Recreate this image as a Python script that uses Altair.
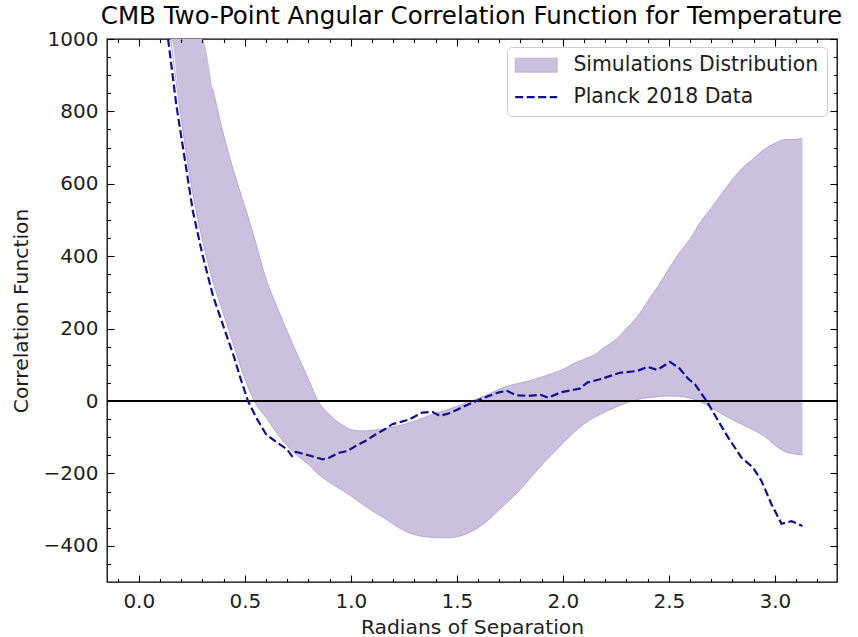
import altair as alt
import pandas as pd

# ---------------- data ----------------
band_x = [0.00, 0.05, 0.10, 0.15, 0.20, 0.25, 0.30, 0.35, 0.40, 0.45,
          0.50, 0.55, 0.60, 0.65, 0.70, 0.75, 0.80, 0.85, 0.90, 0.95,
          1.00, 1.05, 1.10, 1.15, 1.20, 1.25, 1.30, 1.35, 1.40, 1.45,
          1.50, 1.55, 1.60, 1.65, 1.70, 1.75, 1.80, 1.85, 1.90, 1.95,
          2.00, 2.05, 2.10, 2.15, 2.20, 2.25, 2.30, 2.35, 2.40, 2.45,
          2.50, 2.55, 2.60, 2.65, 2.70, 2.75, 2.80, 2.85, 2.90, 2.95,
          3.00, 3.05, 3.10, 3.13]
band_hi = [2600, 2300, 2000, 1700, 1450, 1210, 1010, 860, 735, 630,
           537, 440, 337, 262, 192, 125, 60, -5, -38, -63,
           -79, -83, -81, -78, -72, -65, -56, -45, -34, -25,
           -15, -4, 7, 19, 33, 43, 50, 57, 66, 76,
           87, 103, 115, 128, 150, 170, 200, 232, 275, 318,
           365, 410, 447, 495, 533, 573, 612, 645, 670, 695,
           712, 722, 723, 725]
band_lo = [1960, 1610, 1290, 1000, 780, 590, 445, 330, 240, 150,
           62, -6, -45, -88, -124, -152, -175, -204, -225, -243,
           -262, -283, -303, -320, -340, -358, -369, -375, -377, -378,
           -375, -366, -350, -328, -300, -273, -244, -210, -177, -146,
           -117, -88, -63, -45, -30, -17, -5, 4, 9, 12,
           14, 13, 8, -3, -18, -36, -52, -66, -80, -97,
           -122, -140, -147, -149]

data_x = [0.138, 0.177, 0.216, 0.255, 0.30, 0.35, 0.40,
          0.45, 0.48, 0.515, 0.554, 0.60, 0.65, 0.70, 0.722, 0.74, 0.757,
          0.80, 0.867, 0.90, 0.945, 0.985, 1.024, 1.07, 1.118, 1.16, 1.196,
          1.24, 1.275, 1.337, 1.384, 1.42, 1.47, 1.516, 1.56, 1.60, 1.65,
          1.70, 1.736, 1.78, 1.835, 1.895, 1.932, 1.99, 2.05, 2.08, 2.115,
          2.175, 2.27, 2.35, 2.40, 2.445, 2.505, 2.55, 2.59, 2.623, 2.678,
          2.733, 2.78, 2.842, 2.897, 2.937, 2.984, 3.031, 3.078, 3.13]
data_y = [1002, 818, 671, 524, 405, 290, 205,
          120, 62, 0, -46, -92, -114, -134, -152, -141, -143,
          -150, -161, -156, -143, -138, -124, -110, -92, -78, -64,
          -57, -51, -32, -30, -41, -33, -20, -8, 2, 14,
          24, 28, 16, 14, 17, 9, 24, 31, 34, 51,
          60, 78, 83, 94, 86, 108, 90, 62, 46, 0,
          -55, -101, -156, -184, -221, -285, -339, -332, -345]

zero_level = [0]
series_names = ["Simulations Distribution", "Planck 2018 Data"]
title_text = "CMB Two-Point Angular Correlation Function for Temperature"

x_major = [0.0, 0.5, 1.0, 1.5, 2.0, 2.5, 3.0]
x_minor = [-0.1, 0.1, 0.2, 0.3, 0.4, 0.6, 0.7, 0.8, 0.9, 1.1, 1.2, 1.3, 1.4,
           1.6, 1.7, 1.8, 1.9, 2.1, 2.2, 2.3, 2.4, 2.6, 2.7, 2.8, 2.9, 3.1, 3.2]
y_major = [-400, -200, 0, 200, 400, 600, 800, 1000]
y_minor = [-450, -350, -300, -250, -150, -100, -50, 50, 100, 150, 250, 300,
           350, 450, 500, 550, 650, 700, 750, 850, 900, 950]

# ---------------- styling ----------------
FONT = "DejaVu Sans"
BAND = "#cbc0de"
EDGE = "#b8a8d4"
LINE = "#10108c"
TXT = "#1e1e1e"

band_df = pd.DataFrame({"x": band_x, "lo": band_lo, "hi": band_hi,
                        "series": series_names[0]})
data_df = pd.DataFrame({"x": data_x, "y": data_y})
zero_df = pd.DataFrame({"y": zero_level})

xs = alt.Scale(domain=[-0.15, 3.293], nice=False, zero=False)
ys = alt.Scale(domain=[-500, 1000], nice=False, zero=False, clamp=True)


def tick_axis(orient, values, size, **kw):
    opts = dict(orient=orient, values=values, labels=False, domain=False,
                grid=False, ticks=True, tickSize=size, tickWidth=1.1,
                tickColor="black", offset=-size, title=None, zindex=2)
    opts.update(kw)
    return alt.Axis(**opts)


x_lab = alt.Axis(orient="bottom", values=x_major, format=".1f", ticks=False,
                 domain=False, grid=False, labelFont=FONT, labelFontSize=20,
                 labelColor=TXT, labelPadding=9,
                 title="Radians of Separation", titleFont=FONT,
                 titleFontSize=20.3, titleFontWeight="normal", titleColor=TXT,
                 titlePadding=6)
y_lab = alt.Axis(orient="left", values=y_major, format="d", ticks=False,
                 domain=False, grid=False, labelFont=FONT, labelFontSize=20,
                 labelColor=TXT, labelPadding=9,
                 title="Correlation Function", titleFont=FONT,
                 titleFontSize=20.3, titleFontWeight="normal", titleColor=TXT,
                 titlePadding=12)

is_sim = "datum.value == 'Simulations Distribution'"
legend = alt.Legend(
    title=None, orient="none", legendX=400, legendY=8, direction="vertical",
    fillColor="white", strokeColor="#cccccc", cornerRadius=5, padding=8,
    labelFont=FONT, labelFontSize=20.4, labelColor=TXT, labelOffset=27,
    labelLimit=500, rowPadding=11, symbolSize=1764, symbolOpacity=1,
    symbolOffset=11,
    symbolType=alt.ExprRef(expr=f"{is_sim} ? 'M-1,-0.333H1V0.333H-1Z' : 'stroke'"),
    symbolStrokeColor=alt.ExprRef(expr=f"{is_sim} ? '{EDGE}' : '{LINE}'"),
    symbolStrokeWidth=alt.ExprRef(expr=f"{is_sim} ? 0.8 : 2.2"),
    symbolDash=alt.ExprRef(expr=f"{is_sim} ? [1, 0] : [8, 3.5]"),
)

area = alt.Chart(band_df).mark_area(clip=True, opacity=1,
                                     interpolate="monotone").encode(
    x=alt.X("x:Q", scale=xs, axis=x_lab),
    y=alt.Y("lo:Q", scale=ys, axis=y_lab),
    y2="hi:Q",
    color=alt.Color("series:N",
                    scale=alt.Scale(domain=series_names, range=[BAND, LINE]),
                    legend=legend),
)


def edge(field):
    return alt.Chart(band_df).transform_filter(
        f"datum.{field} <= 1000"
    ).mark_line(clip=True, color=EDGE, strokeWidth=1,
                interpolate="monotone").encode(
        x=alt.X("x:Q", scale=xs, axis=None),
        y=alt.Y(f"{field}:Q", scale=ys, axis=None),
    )


zero_rule = alt.Chart(zero_df).mark_rule(color="black", strokeWidth=2).encode(
    y=alt.Y("y:Q", scale=ys, axis=None)
)

line = alt.Chart(data_df).mark_line(
    clip=True, color=LINE, strokeWidth=2.2, strokeDash=[8, 3.5]
).encode(
    x=alt.X("x:Q", scale=xs, axis=tick_axis("bottom", x_major, 7)),
    y=alt.Y("y:Q", scale=ys, axis=tick_axis("left", y_major, 7)),
)


def ghost(xaxis, yaxis):
    return alt.Chart(data_df).mark_line(clip=True, opacity=0).encode(
        x=alt.X("x:Q", scale=xs, axis=xaxis),
        y=alt.Y("y:Q", scale=ys, axis=yaxis),
    )


g1 = ghost(tick_axis("bottom", x_minor, 3.5), tick_axis("left", y_minor, 3.5))
g2 = ghost(
    tick_axis("top", x_major, 7, title=title_text, titleFont=FONT,
              titleFontSize=24.5, titleFontWeight="normal", titleColor="black",
              titleX=364, titleY=-23, titleAlign="center",
              titleBaseline="alphabetic", titleAngle=0),
    tick_axis("right", y_major, 7),
)
g3 = ghost(tick_axis("top", x_minor, 3.5), tick_axis("right", y_minor, 3.5))

chart = alt.layer(area, edge("hi"), edge("lo"), zero_rule, line,
                  g1, g2, g3).resolve_axis(
    x="independent", y="independent"
).properties(
    width=730, height=543,
    autosize=alt.AutoSizeParams(type="none"),
    padding={"left": 107, "top": 39, "right": 21, "bottom": 55},
).configure_view(stroke="black", strokeWidth=1.3)

chart.save("out.html", embed_options={"renderer": "svg", "actions": False})
